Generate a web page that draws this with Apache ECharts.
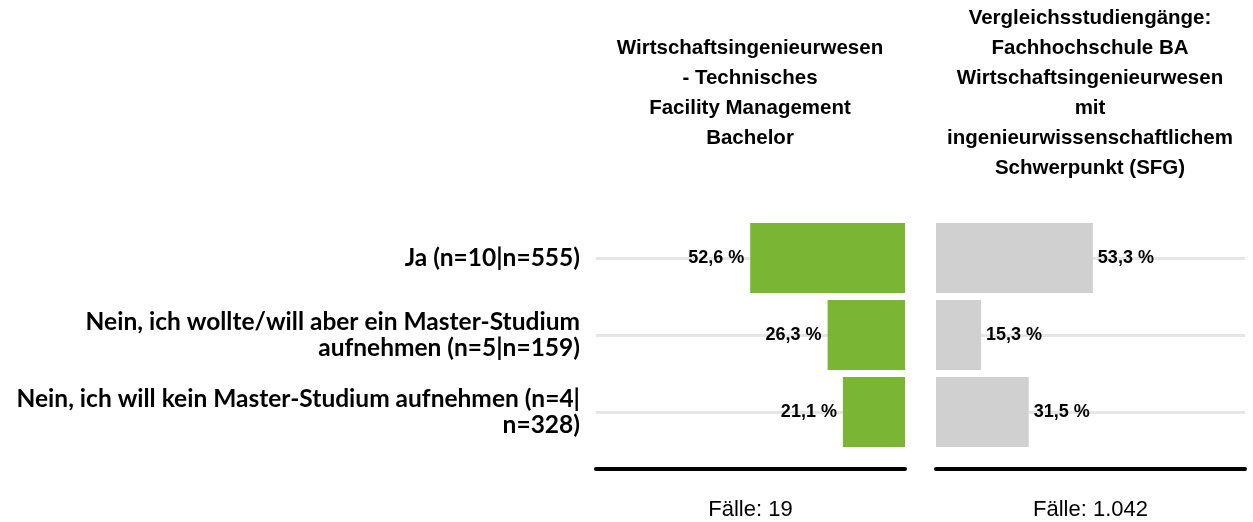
<!DOCTYPE html>
<html>
<head>
<meta charset="utf-8">
<script src="https://cdn.jsdelivr.net/npm/echarts@6/dist/echarts.min.js"></script>
<style>
  html, body { margin: 0; background: #fff; }
  #chart { width: 1253px; height: 522px; }
</style>
</head>
<body>
<div id="chart"></div>
<script>
// Daten
var categories = [
    'Ja (n=10|n=555)',
    'Nein, ich wollte/will aber ein Master-Studium\naufnehmen (n=5|n=159)',
    'Nein, ich will kein Master-Studium aufnehmen (n=4|\nn=328)'
];
var titles = [
    'Wirtschaftsingenieurwesen\n- Technisches\nFacility Management\nBachelor',
    'Vergleichsstudiengänge:\nFachhochschule BA\nWirtschaftsingenieurwesen\nmit\ningenieurwissenschaftlichem\nSchwerpunkt (SFG)'
];
var faelle = ['Fälle: 19', 'Fälle: 1.042'];
var werteFM = [52.6, 26.3, 21.1];
var werteSFG = [53.3, 15.3, 31.5];

var myChart = echarts.init(document.getElementById('chart'));

function pct(p) {
    return p.value.toFixed(1).replace('.', ',') + ' %';
}

var labelStyle = {
    show: true,
    distance: 6,
    color: '#000',
    fontFamily: 'Liberation Sans',
    fontWeight: 'bold',
    fontSize: 18,
    formatter: pct
};

// graue Hilfslinien durch die Balkenmitte
var hilfslinien = {
    silent: true,
    z: 1,
    symbol: ['none', 'none'],
    label: { show: false },
    lineStyle: { color: '#e6e6e6', width: 3, type: 'solid' },
    data: categories.map(function (c) { return { yAxis: c }; })
};

var titleText = {
    color: '#000',
    fontFamily: 'Liberation Sans',
    fontWeight: 'bold',
    fontSize: 20.5,
    lineHeight: 30
};

function xAchse(idx, inverse) {
    return {
        type: 'value',
        gridIndex: idx,
        min: 0,
        max: 105,
        inverse: inverse,
        offset: 18,
        axisLine: { show: true, lineStyle: { color: '#000', width: 4, cap: 'round' } },
        axisTick: { show: false },
        axisLabel: { show: false },
        splitLine: { show: false },
        name: faelle[idx],
        nameLocation: 'middle',
        nameGap: 30,
        nameTextStyle: { color: '#000', fontFamily: 'Liberation Sans', fontSize: 22 }
    };
}

option = {
    animation: false,
    title: [
        { text: titles[0], left: 750, top: 33, padding: 0, textAlign: 'center', textStyle: titleText },
        { text: titles[1], left: 1090, top: 3, padding: 0, textAlign: 'center', textStyle: titleText }
    ],
    grid: [
        { left: 596, width: 309, top: 219.5, height: 231 },
        { left: 936, width: 309, top: 219.5, height: 231 }
    ],
    xAxis: [xAchse(0, true), xAchse(1, false)],
    yAxis: [
        {
            type: 'category',
            gridIndex: 0,
            inverse: true,
            data: categories,
            axisLine: { show: false },
            axisTick: { show: false },
            axisLabel: {
                margin: 16,
                align: 'right',
                color: '#000',
                fontFamily: 'Lato',
                fontWeight: 'bold',
                fontSize: 24.5,
                lineHeight: 26
            }
        },
        {
            type: 'category',
            gridIndex: 1,
            inverse: true,
            data: categories,
            axisLine: { show: false },
            axisTick: { show: false },
            axisLabel: { show: false }
        }
    ],
    series: [
        {
            name: 'FM',
            type: 'bar',
            xAxisIndex: 0,
            yAxisIndex: 0,
            barWidth: 70,
            itemStyle: { color: '#7bb534' },
            label: Object.assign({}, labelStyle, { position: 'left' }),
            markLine: hilfslinien,
            data: werteFM
        },
        {
            name: 'SFG',
            type: 'bar',
            xAxisIndex: 1,
            yAxisIndex: 1,
            barWidth: 70,
            itemStyle: { color: '#d0d0d0' },
            label: Object.assign({}, labelStyle, { position: 'right', distance: 5 }),
            markLine: hilfslinien,
            data: werteSFG
        }
    ]
};

myChart.setOption(option);
</script>
</body>
</html>
